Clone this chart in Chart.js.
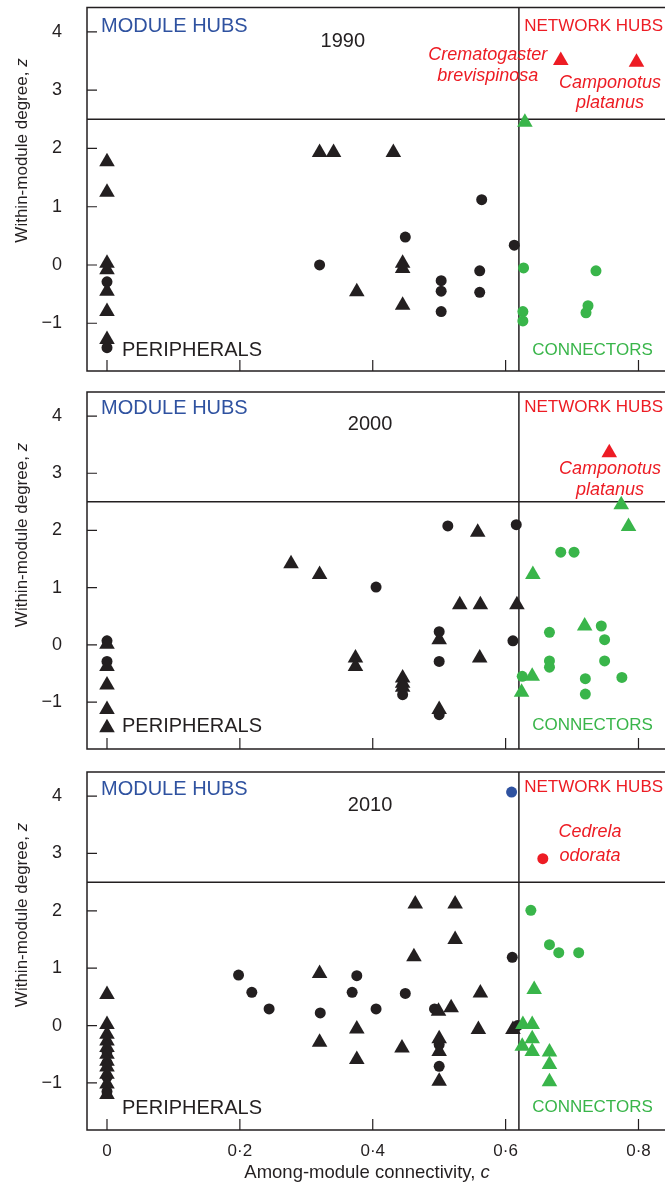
<!DOCTYPE html>
<html>
<head>
<meta charset="utf-8">
<script src="https://cdn.jsdelivr.net/npm/chart.js@4.4.0/dist/chart.umd.min.js"></script>
<style>
  body { margin: 0; background: #fff; }
  #wrap { position: relative; width: 665px; height: 1191px; overflow: hidden; }
  canvas { position: absolute; left: 0; }
</style>
</head>
<body>
<div id="wrap">
  <canvas id="p1990" width="665" height="380" style="top:0px"></canvas>
  <canvas id="p2000" width="665" height="380" style="top:380px"></canvas>
  <canvas id="p2010" width="665" height="431" style="top:760px"></canvas>
</div>
<script>
// axis ticks and role thresholds
const xTicks = [0, 0.2, 0.4, 0.6, 0.8];
const yTicks = [-1, 0, 1, 2, 3, 4];
const hubZ = 2.5;      // within-module degree threshold
const connC = 0.62;    // among-module connectivity threshold

// 1990 network: [c, z]
const blackTri1990 = [[0,1.77],[0,1.25],[0,0.03],[0,-0.08],[0,-0.45],[0,-0.80],[0,-1.28],
  [0.320,1.93],[0.341,1.93],[0.431,1.93],[0.376,-0.46],[0.445,0.03],[0.445,-0.06],[0.445,-0.69]];
const blackDot1990 = [[0,-0.29],[0,-1.42],[0.320,0.0],[0.449,0.48],[0.503,-0.27],[0.503,-0.45],
  [0.503,-0.80],[0.561,-0.10],[0.561,-0.47],[0.564,1.12],[0.613,0.34]];
const greenDot1990 = [[0.627,-0.05],[0.626,-0.80],[0.626,-0.96],[0.736,-0.10],[0.724,-0.70],[0.721,-0.82]];
const greenTri1990 = [[0.629,2.45]];
const redTri1990 = [[0.683,3.51],[0.797,3.48]];

// 2000 network
const blackTri2000 = [[0,0.01],[0,-0.38],[0,-0.70],[0,-1.13],[0,-1.45],[0.277,1.42],[0.320,1.23],
  [0.374,-0.23],[0.374,-0.38],[0.445,-0.58],[0.445,-0.67],[0.445,-0.74],[0.5,0.09],[0.5,-1.13],
  [0.531,0.70],[0.562,0.70],[0.558,1.97],[0.561,-0.23],[0.617,0.70]];
const blackDot2000 = [[0,0.07],[0,-0.29],[0.405,1.01],[0.5,0.23],[0.5,-0.29],[0.445,-0.87],
  [0.5,-1.22],[0.513,2.08],[0.616,2.10],[0.611,0.07]];
const greenDot2000 = [[0.683,1.62],[0.703,1.62],[0.666,0.22],[0.666,-0.28],[0.666,-0.39],[0.625,-0.55],
  [0.720,-0.59],[0.720,-0.86],[0.744,0.33],[0.749,0.09],[0.749,-0.28],[0.775,-0.57]];
const greenTri2000 = [[0.641,1.23],[0.719,0.33],[0.640,-0.55],[0.624,-0.83],[0.774,2.45],[0.785,2.07]];
const redTri2000 = [[0.756,3.36]];

// 2010 network
const blackTri2010 = [[0,0.54],[0,0.02],[0,-0.15],[0,-0.27],[0,-0.38],[0,-0.50],[0,-0.62],[0,-0.72],
  [0,-0.85],[0,-1.02],[0,-1.20],[0.320,0.91],[0.320,-0.29],[0.376,-0.06],[0.376,-0.59],[0.444,-0.39],
  [0.464,2.12],[0.462,1.20],[0.524,2.12],[0.524,1.50],[0.518,0.31],[0.499,0.25],[0.5,-0.23],
  [0.5,-0.45],[0.5,-0.97],[0.562,0.57],[0.559,-0.07],[0.611,-0.07]];
const blackDot2010 = [[0,-0.45],[0,-0.65],[0,-0.90],[0,-1.15],[0.198,0.88],[0.218,0.58],[0.244,0.29],
  [0.321,0.22],[0.376,0.87],[0.369,0.58],[0.405,0.29],[0.449,0.56],[0.493,0.29],[0.5,-0.33],
  [0.5,-0.71],[0.610,1.19],[0.618,0.0]];
const greenDot2010 = [[0.638,2.01],[0.666,1.41],[0.680,1.27],[0.710,1.27]];
const greenTri2010 = [[0.643,0.63],[0.626,0.02],[0.640,0.02],[0.640,-0.23],[0.625,-0.36],
  [0.640,-0.45],[0.666,-0.46],[0.666,-0.68],[0.666,-0.98]];
const blueDot2010 = [[0.609,4.07]];
const redDot2010 = [[0.656,2.91]];

const INK = '#231f20', GREEN = '#39b54a', RED = '#ed1c24', BLUE = '#2f52a0';
const FONT = "'Liberation Sans', Arial, Helvetica, sans-serif";

function pts(arr) { return arr.map(p => ({ x: p[0], y: p[1] })); }
function set(arr, color, style) {
    const tri = style === 'triangle';
    return {
        data: pts(arr),
        pointStyle: style,
        pointRadius: tri ? 9 : 5.5,
        pointHoverRadius: tri ? 9 : 5.5,
        backgroundColor: color,
        borderColor: color,
        borderWidth: 0
    };
}

// text notes for each panel (data coordinates)
const notes = {
    p1990: [
        { t: 'MODULE HUBS', c: -0.009, z: 4.09, color: BLUE, size: 20, align: 'left' },
        { t: 'NETWORK HUBS', c: 0.628, z: 4.10, color: RED, size: 17, align: 'left' },
        { t: '1990', c: 0.355, z: 3.84, color: INK, size: 20, align: 'center' },
        { t: 'Crematogaster', c: 0.573, z: 3.61, color: RED, size: 18, align: 'center', italic: true },
        { t: 'brevispinosa', c: 0.573, z: 3.24, color: RED, size: 18, align: 'center', italic: true },
        { t: 'Camponotus', c: 0.757, z: 3.13, color: RED, size: 18, align: 'center', italic: true },
        { t: 'platanus', c: 0.757, z: 2.78, color: RED, size: 18, align: 'center', italic: true },
        { t: 'PERIPHERALS', c: 0.0226, z: -1.46, color: INK, size: 20, align: 'left' },
        { t: 'CONNECTORS', c: 0.640, z: -1.46, color: GREEN, size: 17, align: 'left' }
    ],
    p2000: [
        { t: 'MODULE HUBS', c: -0.009, z: 4.14, color: BLUE, size: 20, align: 'left' },
        { t: 'NETWORK HUBS', c: 0.628, z: 4.16, color: RED, size: 17, align: 'left' },
        { t: '2000', c: 0.396, z: 3.86, color: INK, size: 20, align: 'center' },
        { t: 'Camponotus', c: 0.757, z: 3.07, color: RED, size: 18, align: 'center', italic: true },
        { t: 'platanus', c: 0.757, z: 2.71, color: RED, size: 18, align: 'center', italic: true },
        { t: 'PERIPHERALS', c: 0.0226, z: -1.42, color: INK, size: 20, align: 'left' },
        { t: 'CONNECTORS', c: 0.640, z: -1.41, color: GREEN, size: 17, align: 'left' }
    ],
    p2010: [
        { t: 'MODULE HUBS', c: -0.009, z: 4.12, color: BLUE, size: 20, align: 'left' },
        { t: 'NETWORK HUBS', c: 0.628, z: 4.15, color: RED, size: 17, align: 'left' },
        { t: '2010', c: 0.396, z: 3.83, color: INK, size: 20, align: 'center' },
        { t: 'Cedrela', c: 0.727, z: 3.37, color: RED, size: 18, align: 'center', italic: true },
        { t: 'odorata', c: 0.727, z: 2.95, color: RED, size: 18, align: 'center', italic: true },
        { t: 'PERIPHERALS', c: 0.0226, z: -1.45, color: INK, size: 20, align: 'left' },
        { t: 'CONNECTORS', c: 0.640, z: -1.42, color: GREEN, size: 17, align: 'left' }
    ]
};

// frame, threshold lines, inward ticks, notes and axis titles
const decor = {
    id: 'decor',
    beforeDatasetsDraw(chart) {
        const { ctx, chartArea: a, scales: { x, y } } = chart;
        ctx.save();
        ctx.strokeStyle = INK;
        ctx.lineWidth = 1.5;
        ctx.beginPath();
        ctx.moveTo(a.right + 2, a.top);
        ctx.lineTo(a.left, a.top);
        ctx.lineTo(a.left, a.bottom);
        ctx.lineTo(a.right + 2, a.bottom);
        // threshold lines
        const yh = y.getPixelForValue(hubZ);
        ctx.moveTo(a.left, yh);
        ctx.lineTo(a.right + 2, yh);
        const xc = x.getPixelForValue(connC);
        ctx.moveTo(xc, a.top);
        ctx.lineTo(xc, a.bottom);
        ctx.stroke();
        // inward tick marks
        ctx.lineWidth = 1.2;
        ctx.beginPath();
        xTicks.forEach(v => {
            const px = x.getPixelForValue(v);
            ctx.moveTo(px, a.bottom);
            ctx.lineTo(px, a.bottom - 11);
        });
        yTicks.forEach(v => {
            const py = y.getPixelForValue(v);
            ctx.moveTo(a.left, py);
            ctx.lineTo(a.left + 10, py);
        });
        ctx.stroke();
        ctx.restore();
    },
    afterDatasetsDraw(chart, args, opts) {
        const { ctx, chartArea: a, scales: { x, y } } = chart;
        ctx.save();
        ctx.textBaseline = 'middle';
        (notes[chart.canvas.id] || []).forEach(n => {
            ctx.font = (n.italic ? 'italic ' : '') + n.size + 'px ' + FONT;
            ctx.fillStyle = n.color;
            ctx.textAlign = n.align;
            ctx.fillText(n.t, x.getPixelForValue(n.c), y.getPixelForValue(n.z));
        });
        // y axis title, rotated, with italic z
        ctx.translate(22, a.top + 143);
        ctx.rotate(-Math.PI / 2);
        ctx.fillStyle = INK;
        ctx.textAlign = 'left';
        ctx.font = '17px ' + FONT;
        const main = 'Within-module degree, ';
        const w1 = ctx.measureText(main).width;
        ctx.font = 'italic 17px ' + FONT;
        const w2 = ctx.measureText('z').width;
        ctx.font = '17px ' + FONT;
        ctx.fillText(main, -(w1 + w2) / 2, 0);
        ctx.font = 'italic 17px ' + FONT;
        ctx.fillText('z', -(w1 + w2) / 2 + w1, 0);
        ctx.restore();
        if (opts.xTitle) {
            ctx.save();
            ctx.fillStyle = INK;
            ctx.textBaseline = 'middle';
            ctx.textAlign = 'left';
            ctx.font = '18.5px ' + FONT;
            const t = 'Among-module connectivity, ';
            const t1 = ctx.measureText(t).width;
            ctx.font = 'italic 18.5px ' + FONT;
            const t2 = ctx.measureText('c').width;
            const cx = 367, cy = a.bottom + 43;
            ctx.font = '18.5px ' + FONT;
            ctx.fillText(t, cx - (t1 + t2) / 2, cy);
            ctx.font = 'italic 18.5px ' + FONT;
            ctx.fillText('c', cx - (t1 + t2) / 2 + t1, cy);
            ctx.restore();
        }
    }
};

function makePanel(id, groups, topPad, xHeight, showX) {
    new Chart(document.getElementById(id).getContext('2d'), {
        type: 'scatter',
        data: { datasets: groups },
        options: {
            responsive: false,
            animation: false,
            events: [],
            layout: { autoPadding: false, padding: { top: topPad, left: 0, right: 0, bottom: 0 } },
            plugins: {
                legend: { display: false },
                tooltip: { enabled: false },
                decor: { xTitle: showX }
            },
            scales: {
                x: {
                    type: 'linear',
                    min: -0.0301,
                    max: 0.8399,
                    afterBuildTicks: s => { s.ticks = xTicks.map(v => ({ value: v })); },
                    afterFit: s => {
                        s.height = xHeight;
                        s.paddingLeft = 0; s.paddingRight = 0;
                        s.paddingTop = 0; s.paddingBottom = 0;
                    },
                    grid: { display: false, drawTicks: false },
                    border: { display: false },
                    ticks: {
                        display: showX,
                        padding: 11,
                        color: INK,
                        font: { family: FONT, size: 17 },
                        maxRotation: 0,
                        autoSkip: false,
                        callback: v => v === 0 ? '0' : v.toFixed(1).replace('.', '\u00b7')
                    }
                },
                y: {
                    type: 'linear',
                    min: -1.82,
                    max: 4.42,
                    afterBuildTicks: s => { s.ticks = yTicks.map(v => ({ value: v })); },
                    afterFit: s => {
                        s.width = 87;
                        s.paddingLeft = 0; s.paddingRight = 0;
                        s.paddingTop = 0; s.paddingBottom = 0;
                    },
                    grid: { display: false, drawTicks: false },
                    border: { display: false },
                    ticks: {
                        padding: 25,
                        color: INK,
                        font: { family: FONT, size: 18 },
                        callback: v => v < 0 ? '\u2212' + Math.abs(v) : String(v)
                    }
                }
            }
        },
        plugins: [decor]
    });
}

makePanel('p1990', [
    set(redTri1990, RED, 'triangle'),
    set(greenTri1990, GREEN, 'triangle'),
    set(greenDot1990, GREEN, 'circle'),
    set(blackTri1990, INK, 'triangle'),
    set(blackDot1990, INK, 'circle')
], 7.5, 9, false);

makePanel('p2000', [
    set(redTri2000, RED, 'triangle'),
    set(greenTri2000, GREEN, 'triangle'),
    set(greenDot2000, GREEN, 'circle'),
    set(blackTri2000, INK, 'triangle'),
    set(blackDot2000, INK, 'circle')
], 12, 11, false);

makePanel('p2010', [
    set(blueDot2010, BLUE, 'circle'),
    set(redDot2010, RED, 'circle'),
    set(greenTri2010, GREEN, 'triangle'),
    set(greenDot2010, GREEN, 'circle'),
    set(blackTri2010, INK, 'triangle'),
    set(blackDot2010, INK, 'circle')
], 12, 61, true);
</script>
</body>
</html>
